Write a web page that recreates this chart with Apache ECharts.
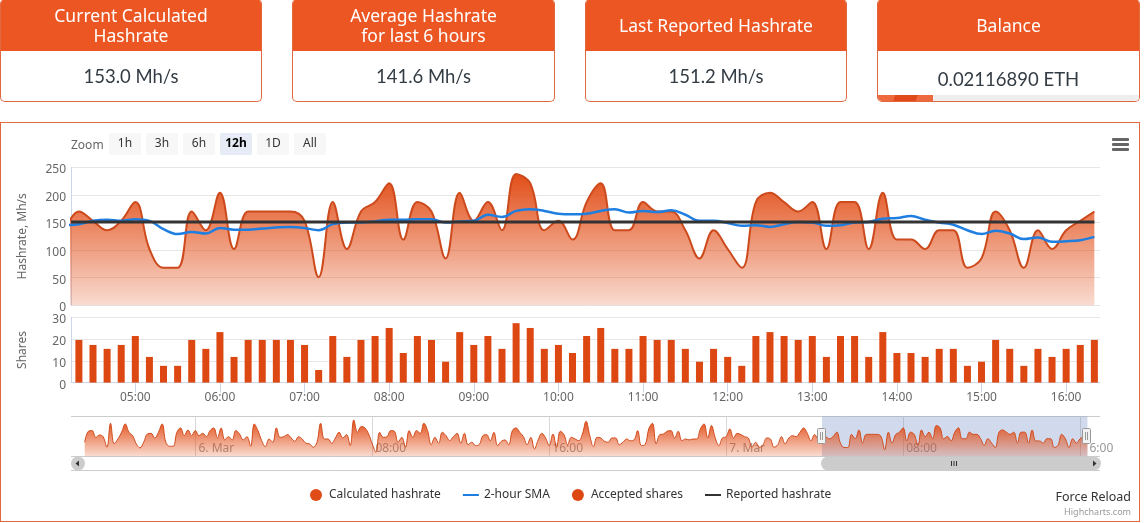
<!DOCTYPE html>
<html>
<head>
<meta charset="utf-8">
<title>Hashrate</title>
<script src="https://cdn.jsdelivr.net/npm/echarts@6/dist/echarts.min.js"></script>
<style>
html,body{margin:0;padding:0;background:#fff;overflow:hidden;font-family:"Noto Sans",sans-serif}
#frame{position:absolute;left:0;top:122px;width:1138px;height:398px;border:1px solid #e2683f}
#chart{position:absolute;left:0;top:0;width:1144px;height:523px}
.card{position:absolute;top:-1px;height:102px;border:1px solid #e2683f;border-top:0;border-radius:5px;box-sizing:content-box;overflow:hidden;text-align:center;background:#fff}
.card .head{height:52px;background:#eb5623;color:#fff;font-size:17.5px;line-height:20px;display:flex;align-items:center;justify-content:center}
.card .val{color:#333c44;font-family:Lato,sans-serif;font-size:18.5px;line-height:51px}
#bal .val{line-height:56px}
#prog{position:absolute;left:0;right:0;bottom:0;height:6px;background:#eee}
#prog div{height:6px;width:55px;background:linear-gradient(110deg,#ee6a3e 0 30%,#e04a1a 30% 70%,#ee6a3e 70%)}
.btn{position:absolute;top:133px;width:32px;height:22px;line-height:20px;text-align:center;background:#f7f7f7;color:#333;font-size:12px;border-radius:2px}
.btn.on{background:#e6ebf5;color:#000;font-weight:bold}
#zoomlbl{position:absolute;left:71px;top:136px;color:#666;font-size:12px}
#menu{position:absolute;left:1112px;top:138px;width:17px}
#menu div{height:3px;background:#666;margin-bottom:2px;border-radius:1px}
#reload{position:absolute;right:13px;top:488px;color:#333;font-size:12.5px}
#credit{position:absolute;right:13px;top:505px;color:#999;font-size:9px}
</style>
</head>
<body>
<div id="frame"></div>
<div id="chart"></div>
<div class="card" style="left:0;width:260px"><div class="head"><span>Current Calculated<br>Hashrate</span></div><div class="val">153.0 Mh/s</div></div>
<div class="card" style="left:292px;width:261px"><div class="head"><span>Average Hashrate<br>for last 6 hours</span></div><div class="val">141.6 Mh/s</div></div>
<div class="card" style="left:585px;width:260px"><div class="head"><span>Last Reported Hashrate</span></div><div class="val">151.2 Mh/s</div></div>
<div class="card" id="bal" style="left:877px;width:261px"><div class="head"><span>Balance</span></div><div class="val">0.02116890 ETH</div><div id="prog"><div></div></div></div>
<div id="zoomlbl">Zoom</div>
<div class="btn" style="left:109px">1h</div>
<div class="btn" style="left:146px">3h</div>
<div class="btn" style="left:183px">6h</div>
<div class="btn on" style="left:220px">12h</div>
<div class="btn" style="left:257px">1D</div>
<div class="btn" style="left:294px">All</div>
<div id="menu"><div></div><div></div><div></div></div>
<div id="reload">Force Reload</div>
<div id="credit">Highcharts.com</div>
<script>
// 10 minute samples, 7 Mar 04:10 up to 16:20
var hashrate = [136,170,153,136,153,187,102,68,68,170,136,204,102,170,170,170,170,153,51,187,102,170,187,221,119,187,170,85,204,153,187,136,238,221,136,153,119,187,221,136,136,187,170,170,136,85,136,102,68,187,204,187,170,187,102,187,187,102,204,119,119,102,136,136,68,85,170,136,68,136,102,136,153,170];
var sma = [145,147,153,155,153,156,153,138,129,133,130,140,137,137,139,141,142,140,136,147,150,150,152,155,155,156,156,150,152,153,164,160,171,174,171,166,165,166,171,174,168,171,169,172,164,153,153,149,144,145,142,147,151,150,144,145,150,151,157,158,162,155,150,146,136,129,135,130,120,123,115,116,118,124];
var shares = [19.6,17.3,15.5,17.3,21.4,11.8,7.7,7.7,19.6,15.5,23.2,11.8,19.6,19.6,19.6,19.6,17.3,5.8,21.4,11.8,19.6,21.4,25.1,13.6,21.4,19.6,9.6,23.2,17.3,21.4,15.5,27.3,25.1,15.5,17.3,13.6,21.4,25.1,15.5,15.5,21.4,19.6,19.6,15.5,9.6,15.5,11.8,7.7,21.4,23.2,21.4,19.6,21.4,11.8,21.4,21.4,11.8,23.2,13.6,13.6,11.8,15.5,15.5,7.7,9.6,19.6,15.5,7.7,15.5,11.8,15.5,17.3,19.6];
var reported = [151,151];
// navigator history before the selected 12h, 5 Mar 19:00 up to 7 Mar 04:10
var navHistory = [109,194,199,147,165,152,70,256,96,134,186,251,186,160,96,65,109,173,178,142,186,251,109,78,78,186,220,160,204,160,199,160,178,152,199,220,142,220,127,152,127,199,173,127,152,78,251,199,121,75,134,
109,220,147,152,168,142,116,152,134,101,96,70,109,256,134,134,101,142,186,142,168,83,282,186,230,220,173,96,31,186,147,152,199,194,109,147,70,199,147,199,178,256,199,90,147,101,186,160,121,152,
178,101,178,90,109,83,90,160,168,121,186,83,116,127,90,199,220,186,152,90,147,57,127,178,142,83,173,70,194,168,90,147,134,121,173,271,160,75,147,142,116,109,142,142,90,109,134,121,127,199,83,
90,212,256,96,168,173,194,199,142,194,121,134,127,134,134,212,251,142,238,147,83,142,152,212,142,178,168,152,142,70,109,70,90,142,134,70,90,152,96,142,160,152,186,220,178,121,168,136];
var mainTickHours = [5,6,7,8,9,10,11,12,13,14,15,16];
var navTickHours = [24,32,40,48,56,64]; // hours since 5 Mar 00:00
var navTickLabels = ['6. Mar','08:00','16:00','7. Mar','08:00','  6:00']; // last one is cut by the handle in the original

var HOUR = 3600000;
var day0 = Date.UTC(2018,2,5);
var day2 = Date.UTC(2018,2,7);
var mainStart = day2 + 4*HOUR + 10*6e4;
var mainMin = day2 + 4.24*HOUR;
var mainMax = day2 + 16.4*HOUR;
var navStart = day0 + 19*HOUR;
var navMin = day0 + 18.38*HOUR;
var navMax = day2 + 16.9*HOUR;

function zip(start, vals) {
	return vals.map(function(v, i) { return [start + i*6e5, v]; });
}
function hhmm(v) {
	var d = new Date(v);
	return ('0'+d.getUTCHours()).slice(-2) + ':' + ('0'+d.getUTCMinutes()).slice(-2);
}
var navAll = navHistory.concat(hashrate.slice(1));
function orangeFill(op) {
	return {type:'linear',x:0,y:0,x2:0,y2:1,colorStops:[{offset:0,color:'rgba(226,78,24,1)'},{offset:1,color:'rgba(226,78,24,'+op+')'}]};
}
var chart = echarts.init(document.getElementById('chart'), null, {renderer:'canvas'});
var font = '"Noto Sans",sans-serif';
var gray = {color:'#666',fontFamily:font,fontSize:12};
var lineIcon = 'path://M0 0H16V2H0Z';
var mainTicks = mainTickHours.map(function(h){return day2+h*HOUR});
var navTicks = navTickHours.map(function(h){return day0+h*HOUR});

chart.setOption({
	animation:false,
	textStyle:{fontFamily:font},
	legend:{
		left:305, top:484, itemWidth:16, itemHeight:12, itemGap:22,
		textStyle:{color:'#333',fontSize:12,fontFamily:font},
		data:[
			{name:'Calculated hashrate',icon:'circle'},
			{name:'2-hour SMA',icon:lineIcon},
			{name:'Accepted shares',icon:'circle'},
			{name:'Reported hashrate',icon:lineIcon}
		]
	},
	grid:[
		{left:71,width:1029,top:167.3,height:138},
		{left:71,width:1029,top:317.3,height:65.3},
		{left:71,width:1029,top:416.3,height:40}
	],
	xAxis:[
		{type:'value',gridIndex:0,min:mainMin,max:mainMax,axisLabel:{show:false},axisTick:{show:false},axisLine:{show:false},splitLine:{show:false}},
		{type:'value',gridIndex:1,min:mainMin,max:mainMax,
			axisLine:{onZero:false,lineStyle:{color:'#ccd6eb'}},
			axisTick:{length:10,lineStyle:{color:'#ccd6eb'},customValues:mainTicks},
			axisLabel:{color:'#666',fontFamily:font,fontSize:12,margin:9,hideOverlap:false,
				customValues:mainTicks,formatter:function(v){return hhmm(v)}},
			splitLine:{show:false}},
		{type:'value',gridIndex:2,min:navMin,max:navMax,
			axisLine:{show:false},
			axisTick:{inside:true,length:40,lineStyle:{color:'#d8d8d8'},customValues:navTicks},
			axisLabel:{inside:true,color:'#999',fontFamily:font,fontSize:12,margin:2,align:'left',hideOverlap:false,
				customValues:navTicks,
				formatter:function(v){return ' '+navTickLabels[navTicks.indexOf(v)]}},
			splitLine:{show:false}}
	],
	yAxis:[
		{type:'value',gridIndex:0,min:0,max:250,interval:50,name:'Hashrate, Mh/s',nameLocation:'middle',nameGap:42,nameTextStyle:gray,
			axisLine:{show:true,lineStyle:{color:'#ccd6eb'}},axisTick:{show:false},axisLabel:{color:'#666',fontFamily:font,fontSize:12,margin:5,verticalAlign:'top',lineHeight:5},splitLine:{lineStyle:{color:'#e6e6e6'}}},
		{type:'value',gridIndex:1,min:0,max:30,interval:10,name:'Shares',nameLocation:'middle',nameGap:42,nameTextStyle:gray,
			axisLine:{show:true,lineStyle:{color:'#ccd6eb'}},axisTick:{show:false},axisLabel:{color:'#666',fontFamily:font,fontSize:12,margin:5,verticalAlign:'top',lineHeight:5},splitLine:{lineStyle:{color:'#e6e6e6'}}},
		{type:'value',gridIndex:2,min:0,max:310,interval:310,axisLine:{show:false},axisTick:{show:false},axisLabel:{show:false},splitLine:{lineStyle:{color:'#ccc'}}}
	],
	series:[
		{name:'Calculated hashrate',type:'line',xAxisIndex:0,yAxisIndex:0,data:zip(mainStart,hashrate),smooth:0.4,showSymbol:false,symbol:'none',
			itemStyle:{color:'#e04c17'},lineStyle:{color:'#cc4a1c',width:2},areaStyle:{color:orangeFill(0.2),opacity:1}},
		{name:'2-hour SMA',type:'line',xAxisIndex:0,yAxisIndex:0,data:zip(mainStart,sma),smooth:0.4,symbol:'none',
			itemStyle:{color:'#1e7fe0'},lineStyle:{color:'#1e7fe0',width:2.5}},
		{name:'Accepted shares',type:'bar',xAxisIndex:1,yAxisIndex:1,data:zip(mainStart+6e5,shares),barWidth:7,itemStyle:{color:'#dc4712'}},
		{name:'Reported hashrate',type:'line',xAxisIndex:0,yAxisIndex:0,data:[[mainMin,reported[0]],[mainStart+73*6e5,reported[1]]],symbol:'none',
			itemStyle:{color:'#333'},lineStyle:{color:'#333',width:3}},
		{name:'nav',type:'line',xAxisIndex:2,yAxisIndex:2,data:zip(navStart,navAll),smooth:0.4,symbol:'none',
			lineStyle:{color:'#d0491a',width:1},areaStyle:{color:orangeFill(0.2),opacity:1},
			markArea:{silent:true,itemStyle:{color:'rgba(102,133,194,0.3)'},
				data:[[{xAxis:day2+4.33*HOUR},{xAxis:day2+16.33*HOUR}]]}}
	],
	graphic:[
		// scrollbar under the navigator
		{type:'line',silent:true,z:10,shape:{x1:71,y1:470.5,x2:1100,y2:470.5},style:{stroke:'#ccc',lineWidth:1}},
		{type:'rect',silent:true,z:11,shape:{x:71,y:456.5,width:14,height:14,r:7},style:{fill:'#ccc'}},
		{type:'polygon',silent:true,z:12,shape:{points:[[79,460.5],[79,466.5],[75.5,463.5]]},style:{fill:'#333'}},
		{type:'rect',silent:true,z:11,shape:{x:821,y:456.5,width:280,height:14,r:7},style:{fill:'#ccc'}},
		{type:'polygon',silent:true,z:12,shape:{points:[[1093,460.5],[1093,466.5],[1096.5,463.5]]},style:{fill:'#333'}},
		{type:'rect',silent:true,z:12,shape:{x:951,y:461,width:1,height:5},style:{fill:'#333'}},
		{type:'rect',silent:true,z:12,shape:{x:953.5,y:461,width:1,height:5},style:{fill:'#333'}},
		{type:'rect',silent:true,z:12,shape:{x:956,y:461,width:1,height:5},style:{fill:'#333'}},
		// navigator handles
		{type:'rect',silent:true,z:13,shape:{x:817.5,y:428.5,width:8,height:15,r:1},style:{fill:'#f2f2f2',stroke:'#999',lineWidth:1}},
		{type:'line',silent:true,z:14,shape:{x1:820.5,y1:432,x2:820.5,y2:440},style:{stroke:'#999',lineWidth:1}},
		{type:'line',silent:true,z:14,shape:{x1:822.5,y1:432,x2:822.5,y2:440},style:{stroke:'#999',lineWidth:1}},
		{type:'rect',silent:true,z:13,shape:{x:1082.5,y:428.5,width:8,height:15,r:1},style:{fill:'#f2f2f2',stroke:'#999',lineWidth:1}},
		{type:'line',silent:true,z:14,shape:{x1:1085.5,y1:432,x2:1085.5,y2:440},style:{stroke:'#999',lineWidth:1}},
		{type:'line',silent:true,z:14,shape:{x1:1087.5,y1:432,x2:1087.5,y2:440},style:{stroke:'#999',lineWidth:1}}
	]
});
</script>
</body>
</html>
